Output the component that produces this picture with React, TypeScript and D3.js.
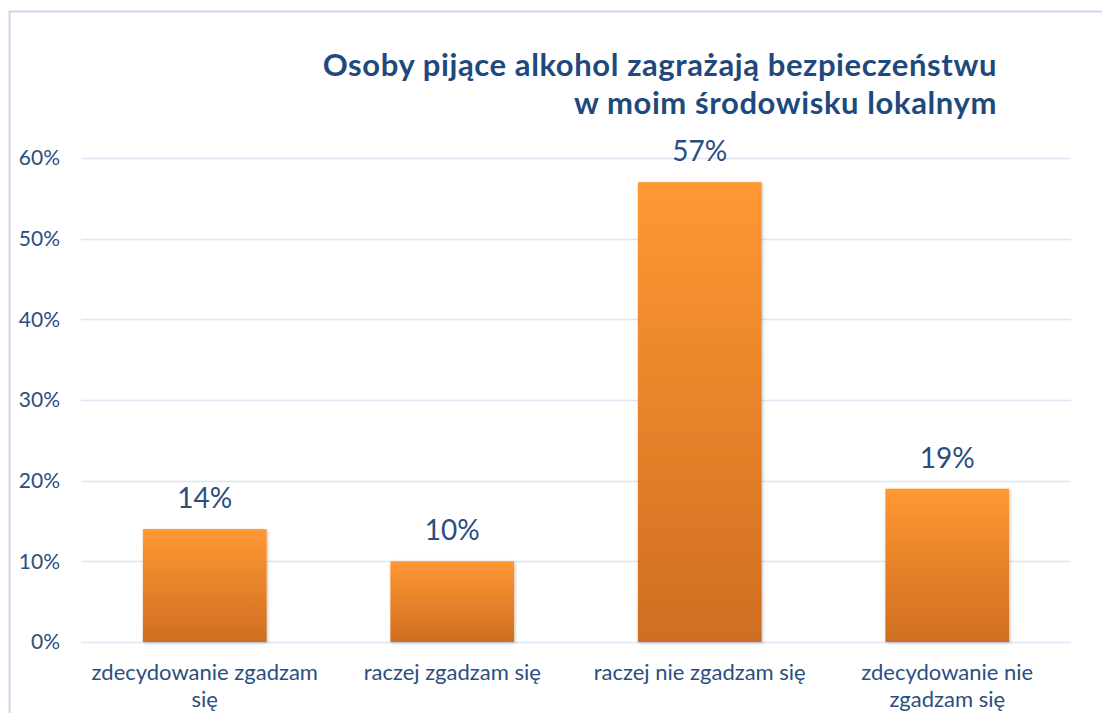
import React, { useEffect, useRef } from "react";
import * as d3 from "d3";

const categories = [
  "zdecydowanie zgadzam się",
  "raczej zgadzam się",
  "raczej nie zgadzam się",
  "zdecydowanie nie zgadzam się",
];
const values = [14, 10, 57, 19];
const yTicks = [0, 10, 20, 30, 40, 50, 60];
const titleLines = [
  "Osoby pijące alkohol zagrażają bezpieczeństwu",
  "w moim środowisku lokalnym",
];

const W = 1102;
const H = 713;
const FONT = "Lato, 'Open Sans', sans-serif";
const TEXT = "#2B4E80";

export default function App() {
  const ref = useRef<SVGSVGElement>(null);

  useEffect(() => {
    const svg = d3.select(ref.current);
    svg.selectAll("*").remove();

    const left = 81, right = 1071, top = 158, bottom = 642;
    const x = d3.scaleBand<string>().domain(categories).range([left, right]).paddingInner(0.5).paddingOuter(0.25);
    const y = d3.scaleLinear().domain([0, 60]).range([bottom, top]);

    const defs = svg.append("defs");
    const grad = defs.append("linearGradient").attr("id", "barGrad").attr("x1", 0).attr("y1", 0).attr("x2", 0).attr("y2", 1);
    grad.append("stop").attr("offset", "0%").attr("stop-color", "#FF9832");
    grad.append("stop").attr("offset", "100%").attr("stop-color", "#CF6E22");
    const filt = defs.append("filter").attr("id", "shadow").attr("x", "-10%").attr("y", "-10%").attr("width", "120%").attr("height", "120%");
    filt.append("feDropShadow").attr("dx", 1).attr("dy", 1).attr("stdDeviation", 1.5).attr("flood-color", "#000").attr("flood-opacity", 0.25);

    svg.append("rect").attr("width", W).attr("height", H).attr("fill", "#fff");
    // frame
    svg.append("path").attr("d", `M9.5,${H} V11.5 H${W}`).attr("fill", "none").attr("stroke", "#C9D8EC").attr("stroke-width", 2);

    // title
    const title = svg.append("text").attr("text-anchor", "end").attr("font-family", FONT).attr("font-weight", 700)
      .attr("font-size", 31).attr("letter-spacing", 0.6).attr("fill", "#1F497D");
    titleLines.forEach((t, i) => {
      title.append("tspan").attr("x", 997).attr("y", 76 + i * 38).text(t);
    });

    // grid
    svg.append("g").selectAll("line").data(yTicks).join("line")
      .attr("x1", left).attr("x2", right)
      .attr("y1", (d) => Math.round(y(d)) + 0.5).attr("y2", (d) => Math.round(y(d)) + 0.5)
      .attr("stroke", "#DCE6F4").attr("stroke-width", 1.5);

    // y labels
    svg.append("g").selectAll("text").data(yTicks).join("text")
      .attr("x", 60).attr("y", (d) => y(d)).attr("dy", "0.35em")
      .attr("text-anchor", "end").attr("font-family", FONT).attr("font-size", 21).attr("fill", TEXT)
      .text((d) => `${d}%`);

    // bars
    svg.append("g").selectAll("rect").data(values).join("rect")
      .attr("x", (_, i) => x(categories[i])!).attr("width", x.bandwidth())
      .attr("y", (d) => y(d)).attr("height", (d) => y(0) - y(d))
      .attr("fill", "url(#barGrad)").attr("filter", "url(#shadow)");

    // value labels
    svg.append("g").selectAll("text").data(values).join("text")
      .attr("x", (_, i) => x(categories[i])! + x.bandwidth() / 2)
      .attr("y", (d) => y(d) - 21)
      .attr("text-anchor", "middle").attr("font-family", FONT).attr("font-size", 28).attr("fill", TEXT)
      .text((d) => `${d}%`);

    // category labels with wrapping
    const maxW = 236;
    const g = svg.append("g");
    categories.forEach((c) => {
      const cx = x(c)! + x.bandwidth() / 2;
      const t = g.append("text").attr("text-anchor", "middle").attr("font-family", FONT).attr("font-size", 22).attr("fill", TEXT);
      const words = c.split(" ");
      let line: string[] = [];
      let lineNo = 0;
      let tspan = t.append("tspan").attr("x", cx).attr("y", 680);
      for (const w of words) {
        line.push(w);
        tspan.text(line.join(" "));
        if ((tspan.node() as SVGTSpanElement).getComputedTextLength() > maxW && line.length > 1) {
          line.pop();
          tspan.text(line.join(" "));
          line = [w];
          lineNo++;
          tspan = t.append("tspan").attr("x", cx).attr("y", 680 + lineNo * 27).text(w);
        }
      }
    });
  }, []);

  return (
    <svg ref={ref} width={W} height={H} style={{ position: "absolute", left: 0, top: 0, display: "block" }} />
  );
}
